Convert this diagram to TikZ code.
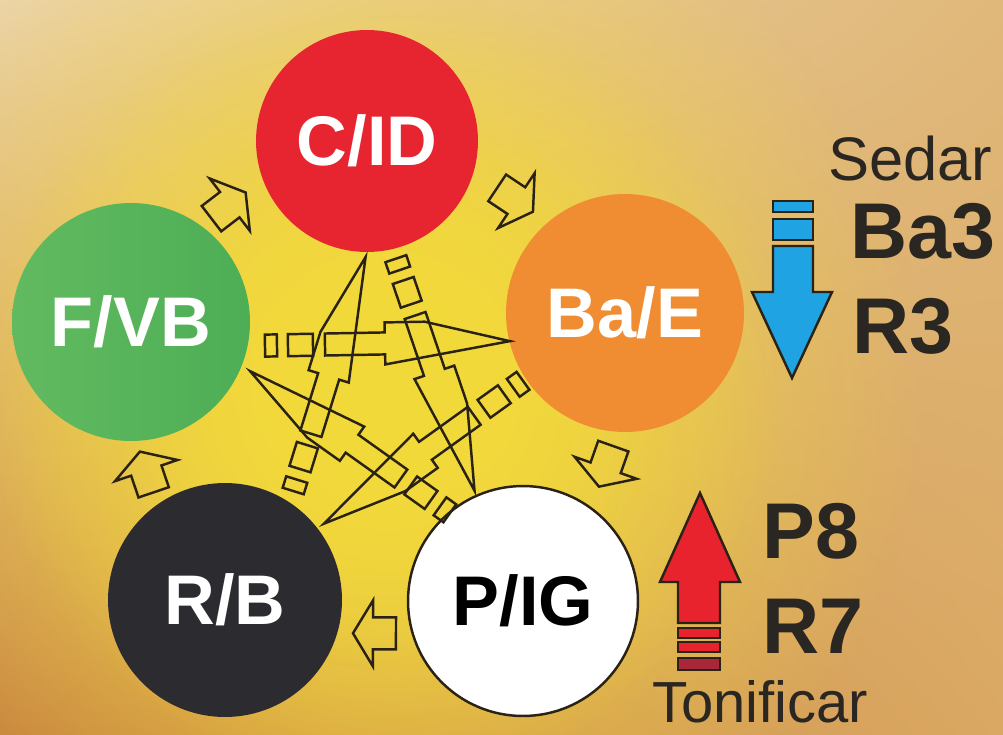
\documentclass[tikz,border=0pt]{standalone}
\usepackage{fontspec}
\setmainfont{Liberation Sans}
\usetikzlibrary{calc,fadings,shadings}
\definecolor{parchmentLight}{HTML}{ECD4A6}
\definecolor{parchment}{HTML}{E0B87A}
\definecolor{parchmentDark}{HTML}{C9863F}
\definecolor{parchmentMid}{HTML}{DAA862}
\definecolor{glowYellow}{HTML}{F3DA3A}
\definecolor{fireRed}{HTML}{E62530}
\definecolor{earthOrange}{HTML}{F08C32}
\definecolor{woodGreen}{HTML}{4DAE55}
\definecolor{woodGreenLight}{HTML}{62BA60}
\definecolor{waterBlack}{HTML}{2C2B30}
\definecolor{inkBrown}{HTML}{2A2215}
\definecolor{textInk}{HTML}{2A2622}
\definecolor{sedarBlue}{HTML}{1FA3E2}
\definecolor{tonRed}{HTML}{E8232E}
\definecolor{tonRedDark}{HTML}{A8283A}
\tikzfading[name=glowfade, inner color=transparent!0, outer color=transparent!100]

\tikzset{
  element/.style={circle, inner sep=0pt, font=\bfseries\fontsize{40}{40}\selectfont, text=white},
  outline/.style={draw=inkBrown, line width=1.4pt, line join=miter},
  glow/.style={fill=glowYellow, path fading=glowfade},
  pointlabel/.style={inner sep=0pt, anchor=base west, text=textInk, font=\bfseries\fontsize{45}{45}\selectfont},
  actionlabel/.style={inner sep=0pt, anchor=base west, text=textInk, font=\fontsize{35}{35}\selectfont},
  pics/kearrow/.style={code={
    \draw[outline] (0,0) -- (85,-21) -- (125,-21) -- (125,-11) -- (185,-11) -- (185,11) -- (125,11) -- (125,21) -- cycle;
    \draw[outline] (197,-11) rectangle (222,11);
    \draw[outline] (233,-11) rectangle (245,11);
  }},
  pics/shengarrow/.style={code={
    \draw[outline] (21,0) -- (1,33) -- (1,16) -- (-22,16) -- (-22,-16) -- (1,-16) -- (1,-33) -- cycle;
  }},
}
\newcommand{\keconnect}[4]{%
  \path let \p1=($(#2)-(#1)$), \n1={atan2(\y1,\x1)} in ($(#1)!#3!#4:(#2)$) pic[rotate=\n1] {kearrow};}
\newcommand{\shengconnect}[2]{%
  \path let \p1=($(#2)-(#1)$), \n1={atan2(\y1,\x1)} in ($(O)!1.16!($(#1)!0.5!(#2)$)$) pic[rotate=\n1] {shengarrow};}

\begin{document}
\begin{tikzpicture}[x=0.02cm, y=0.02cm]
  \useasboundingbox (0,0) rectangle (1003,-734);
  \shade[upper left=parchmentLight, upper right=parchment, lower left=parchmentDark, lower right=parchmentMid] (0,0) rectangle (1003,-734);
  \fill[glow] (385,-390) circle (540);
  \fill[glow] (385,-390) circle (400);
  \fill[glow] (385,-390) circle (280);

  \node[element, fill=fireRed, minimum size=4.44cm] (C) at (367,-141) {C/ID};
  \node[element, fill=earthOrange, minimum size=4.76cm] (Ba) at (625,-313) {Ba/E};
  \node[element, left color=woodGreenLight, right color=woodGreen, minimum size=4.76cm] (F) at (131,-322) {F/VB};
  \node[element, fill=waterBlack, minimum size=4.68cm] (R) at (225,-600) {R/B};
  \node[element, fill=white, draw=inkBrown, line width=1.4pt, text=black, minimum size=4.6cm] (P) at (523,-601) {P/IG};
  \coordinate (O) at ($0.2*(C)+0.2*(Ba)+0.2*(F)+0.2*(R)+0.2*(P)$);

  \shengconnect{F}{C}
  \shengconnect{C}{Ba}
  \shengconnect{Ba}{P}
  \shengconnect{P}{R}
  \shengconnect{R}{F}

  \keconnect{Ba}{F}{2.37cm}{12.7}
  \keconnect{C}{R}{2.32cm}{16.5}
  \keconnect{F}{P}{2.58cm}{13}
  \keconnect{P}{C}{2.41cm}{5}
  \keconnect{R}{Ba}{2.5cm}{2}

  \draw[outline, fill=sedarBlue] (773,-201) rectangle (813,-212);
  \draw[outline, fill=sedarBlue] (773,-219) rectangle (813,-240);
  \draw[outline, fill=sedarBlue] (773,-246) -- (773,-292) -- (752,-292) -- (792,-378) -- (832,-292) -- (813,-292) -- (813,-246) -- cycle;
  \node[actionlabel] (sedar) at (828,-180) {Sedar};
  \node[pointlabel] (ba3) at (850,-258) {Ba3};
  \node[pointlabel] (r3) at (852,-353) {R3};

  \draw[outline, fill=tonRed] (700,-493) -- (740,-582) -- (720,-582) -- (720,-623) -- (678,-623) -- (678,-582) -- (660,-582) -- cycle;
  \draw[outline, fill=tonRed] (678,-628) rectangle (720,-638);
  \draw[outline, fill=tonRed] (678,-642) rectangle (720,-652);
  \draw[outline, fill=tonRedDark] (678,-658) rectangle (720,-670);
  \node[pointlabel] (p8) at (762,-558) {P8};
  \node[pointlabel] (r7) at (762,-653) {R7};
  \node[actionlabel, font=\fontsize{33}{33}\selectfont] (tonificar) at (652,-722) {Tonificar};
\end{tikzpicture}
\end{document}
